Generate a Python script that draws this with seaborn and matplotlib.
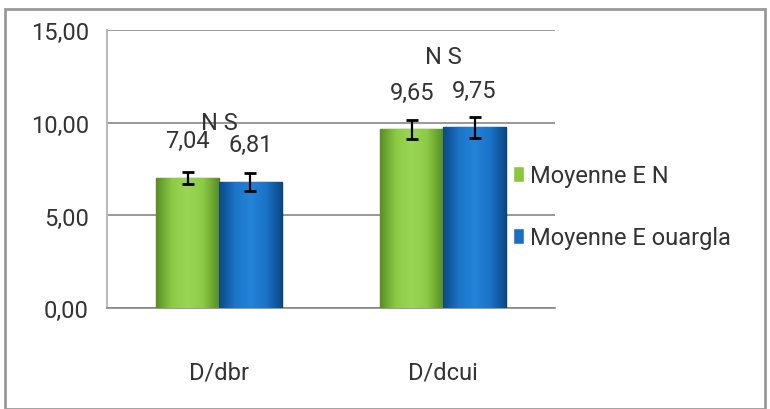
import numpy as np
import pandas as pd
import matplotlib
matplotlib.use('Agg')
import matplotlib.pyplot as plt
import seaborn as sns
from matplotlib.patches import Rectangle
from matplotlib.colors import LinearSegmentedColormap

# Data
categories = ['D/dbr', 'D/dcui']
series = ['Moyenne E N', 'Moyenne E ouargla']
means_en = [7.04, 9.65]
means_ouargla = [6.81, 9.75]
err_en = [0.33, 0.50]
err_ouargla = [0.47, 0.56]
labels_en = ['7,04', '9,65']
labels_ouargla = ['6,81', '9,75']
signif = ['N S', 'N S']
signif_level = [10.0, 13.6]
yticks = [0, 5, 10, 15]

df = pd.DataFrame({
    'cat': categories * 2,
    'serie': [series[0]] * 2 + [series[1]] * 2,
    'val': means_en + means_ouargla,
})

sns.set_style('white')
plt.rcParams['font.family'] = ['Roboto', 'DejaVu Sans']
fs = 17
txt_color = '#333333'

fig = plt.figure(figsize=(7.7, 4.1), dpi=100)
ax = fig.add_axes([0.139, 0.246, 0.582, 0.678])

palette = {series[0]: '#8cc63e', series[1]: '#1a6fc0'}
sns.barplot(data=df, x='cat', y='val', hue='serie', palette=palette,
            width=0.56, ax=ax, zorder=3, saturation=1, legend=True)

# gradient colours for a bevelled look
grads = {
    series[0]: LinearSegmentedColormap.from_list(
        'g', ['#5b8f26', '#8ccb45', '#9bd657', '#8ccb45', '#5b8f26']),
    series[1]: LinearSegmentedColormap.from_list(
        'b', ['#0c4a88', '#1a74c8', '#2483d8', '#1a74c8', '#0c4a88']),
}
edges = {series[0]: '#4f7d20', series[1]: '#0b3f75'}
errs = err_en + err_ouargla
labs = labels_en + labels_ouargla
grad = np.linspace(0, 1, 64).reshape(1, -1)
for i, p in enumerate(ax.patches[:4]):
    s = series[i // 2]
    x0, w, h = p.get_x(), p.get_width(), p.get_height()
    im = ax.imshow(grad, cmap=grads[s], aspect='auto', extent=(x0, x0 + w, 0, h),
                   zorder=3.5, interpolation='bicubic')
    im.set_clip_path(p)
    p.set_edgecolor(edges[s])
    p.set_linewidth(1.0)
    cx = x0 + w / 2
    ax.errorbar(cx, h, yerr=errs[i], color='black', capsize=4.5,
                capthick=2, elinewidth=1.6, zorder=5)
    ax.text(cx, h + 2.0, labs[i], ha='center', va='center', fontsize=fs,
            color=txt_color, zorder=6)

for j, t in enumerate(signif):
    ax.text(j, signif_level[j], t, ha='center', va='center', fontsize=fs,
            color=txt_color, zorder=6)

ax.set_ylim(0, 15)
ax.set_xlim(-0.5, 1.5)
ax.set_yticks(yticks)
ax.set_yticklabels([f'{v:.2f}'.replace('.', ',') for v in yticks], fontsize=fs,
                   color=txt_color)
ax.set_xticks([0, 1])
ax.set_xticklabels(categories, fontsize=fs, color=txt_color)
ax.set_xticks([-0.5, 0.5, 1.5], minor=True)
ax.tick_params(axis='x', which='major', length=0, pad=38)
ax.tick_params(axis='x', which='minor', length=9, color='#888888', direction='out')
ax.tick_params(axis='y', length=7, color='#888888', direction='out', pad=6)
ax.set_xlabel('')
ax.set_ylabel('')
ax.yaxis.grid(True, color='#888888', linewidth=1.2, zorder=0)
ax.set_axisbelow(True)
for side in ['top', 'right']:
    ax.spines[side].set_visible(False)
ax.spines['left'].set_color('#bbbbbb')
ax.spines['bottom'].set_color('#888888')
ax.spines['left'].set_linewidth(1.5)
ax.spines['bottom'].set_linewidth(1.2)

ax.legend(loc='center left', bbox_to_anchor=(0.905, 0.365), frameon=False,
          fontsize=fs, handlelength=0.5, handleheight=0.7, handletextpad=0.25,
          labelspacing=1.65, labelcolor=txt_color, borderaxespad=0, borderpad=0)

# outer chart border
fig.patches.append(Rectangle((0.007, 0.0), 0.987, 0.976, transform=fig.transFigure,
                             fill=False, edgecolor='#999999', linewidth=2))

fig.savefig('out.png', dpi=100)
